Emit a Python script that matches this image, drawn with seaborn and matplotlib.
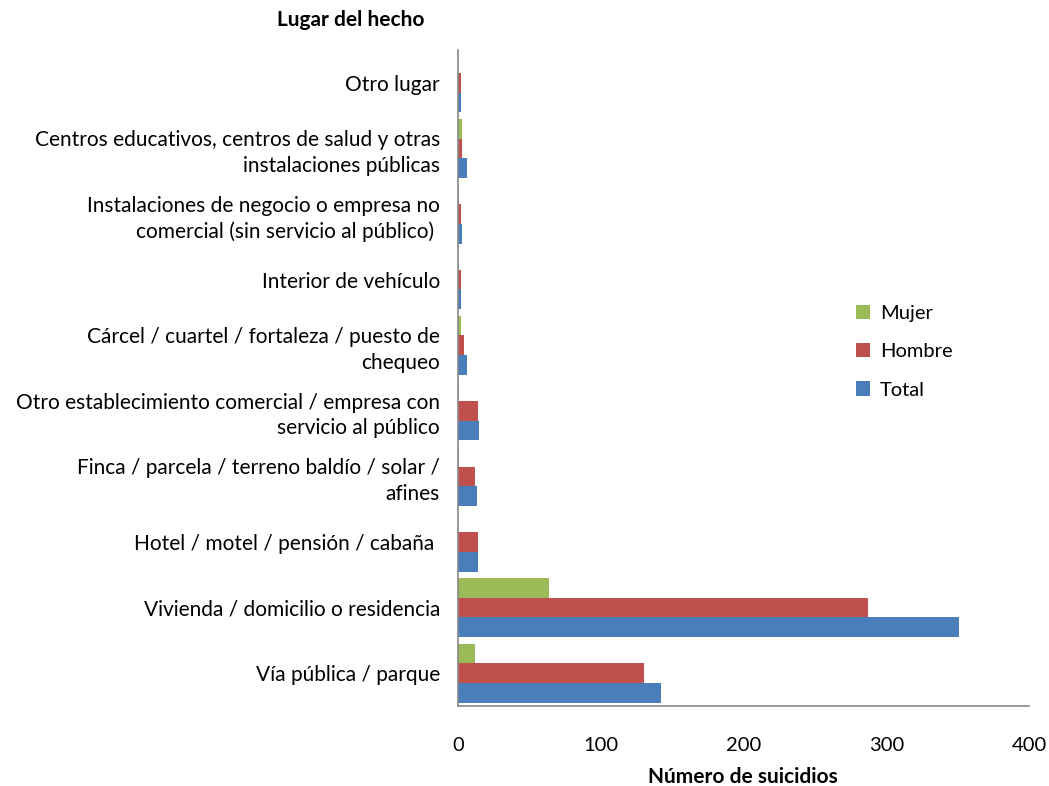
import pandas as pd
import seaborn as sns
import matplotlib.pyplot as plt

# Data
lugares = [
    "Otro lugar",
    "Centros educativos, centros de salud y otras\ninstalaciones públicas",
    "Instalaciones de negocio o empresa no\ncomercial (sin servicio al público) ",
    "Interior de vehículo",
    "Cárcel / cuartel / fortaleza / puesto de\nchequeo",
    "Otro establecimiento comercial / empresa con\nservicio al público",
    "Finca / parcela / terreno baldío / solar /\nafines",
    "Hotel / motel / pensión / cabaña ",
    "Vivienda / domicilio o residencia",
    "Vía pública / parque",
]
mujer = [0, 3, 1, 0, 2, 1, 1, 0, 64, 12]
hombre = [2, 3, 2, 2, 4, 14, 12, 14, 287, 130]
total = [2, 6, 3, 2, 6, 15, 13, 14, 351, 142]
series = ["Mujer", "Hombre", "Total"]
x_ticks = [0, 100, 200, 300, 400]

colores = {"Mujer": "#9BBB59", "Hombre": "#C0504D", "Total": "#4A7EBB"}

# long format for seaborn
df = pd.DataFrame({
    "lugar": lugares * 3,
    "sexo": ["Mujer"] * 10 + ["Hombre"] * 10 + ["Total"] * 10,
    "valor": mujer + hombre + total,
})

sns.set_style("white")
plt.rcParams["font.family"] = ["Lato", "DejaVu Sans"]
plt.rcParams["text.color"] = "black"
plt.rcParams["xtick.labelcolor"] = "black"
plt.rcParams["ytick.labelcolor"] = "black"

fig = plt.figure(figsize=(10.49, 7.86), dpi=100)
ax = fig.add_axes([0.4366, 0.1018, 0.5444, 0.8346])

sns.barplot(data=df, y="lugar", x="valor", hue="sexo", order=lugares,
            hue_order=series, palette=colores, orient="h", width=0.9,
            saturation=1, errorbar=None, linewidth=0, ax=ax)

ax.set_xlim(0, 400)
ax.set_xticks(x_ticks)
ax.set_ylim(9.5, -0.5)
ax.set_xlabel("")
ax.set_ylabel("")

for s in ["top", "right"]:
    ax.spines[s].set_visible(False)
for s in ["left", "bottom"]:
    ax.spines[s].set_color("#888888")
    ax.spines[s].set_linewidth(1.2)

ax.tick_params(axis="x", direction="out", length=8, width=1.2, color="#888888",
               labelsize=14.5, pad=14)
ax.tick_params(axis="y", direction="out", length=4, width=1.2, color="#888888",
               labelsize=15, pad=9)
for lab in ax.get_yticklabels():
    lab.set_horizontalalignment("right")
    lab.set_multialignment("right")
    lab.set_linespacing(1.35)

fig.text(0.334, 0.974, "Lugar del hecho", ha="center", va="center",
         fontsize=15, fontweight="bold")
fig.text(0.708, 0.012, "Número de suicidios", ha="center", va="center",
         fontsize=15, fontweight="bold")

leg = ax.legend(loc="center left", bbox_to_anchor=(0.665, 0.54),
                frameon=False, fontsize=14.5, labelspacing=1.05,
                handlelength=0.7, handleheight=0.7, handletextpad=0.5)

fig.savefig("out.png", dpi=100)
